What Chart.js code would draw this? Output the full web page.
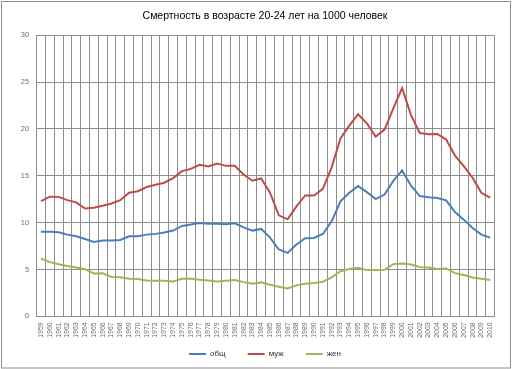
<!DOCTYPE html>
<html>
<head>
<meta charset="utf-8">
<script src="https://cdn.jsdelivr.net/npm/chart.js@4/dist/chart.umd.min.js"></script>
<style>
html,body{margin:0;padding:0;background:#fff;}
#wrap{width:512px;height:369px;position:relative;}
</style>
</head>
<body>
<div id="wrap"><canvas id="c" width="512" height="369"></canvas></div>
<script>
const years = [1959,1960,1961,1962,1963,1964,1965,1966,1967,1968,1969,1970,1971,1972,1973,1974,1975,1976,1977,1978,1979,1980,1981,1982,1983,1984,1985,1986,1987,1988,1989,1990,1991,1992,1993,1994,1995,1996,1997,1998,1999,2000,2001,2002,2003,2004,2005,2006,2007,2008,2009,2010].map(String);

const totalRate = [9.04,9.04,8.97,8.72,8.55,8.26,7.94,8.08,8.10,8.15,
  8.55,8.55,8.72,8.80,8.94,9.15,9.65,9.79,9.96,9.89,
  9.89,9.82,9.93,9.50,9.15,9.33,8.40,7.13,6.77,7.66,
  8.33,8.37,8.79,10.14,12.27,13.19,13.90,13.26,12.52,13.00,
  14.45,15.57,13.97,12.84,12.70,12.62,12.38,11.13,10.32,9.43,
  8.72,8.40];

const maleRate = [12.30,12.77,12.75,12.40,12.16,11.50,11.60,11.80,12.05,12.40,
  13.20,13.35,13.80,14.05,14.26,14.75,15.50,15.74,16.17,16.00,
  16.31,16.06,16.06,15.14,14.47,14.72,13.20,10.78,10.35,11.74,
  12.90,12.90,13.60,15.90,19.00,20.35,21.56,20.60,19.18,19.93,
  22.20,24.36,21.50,19.57,19.43,19.47,18.87,17.16,16.03,14.79,
  13.19,12.66];

const femaleRate = [6.17,5.78,5.56,5.38,5.20,5.03,4.57,4.60,4.20,4.17,
  4.00,3.97,3.83,3.80,3.80,3.72,4.00,4.00,3.90,3.83,
  3.72,3.80,3.87,3.65,3.48,3.62,3.37,3.16,2.98,3.30,
  3.48,3.55,3.69,4.15,4.82,5.04,5.18,4.93,4.93,4.96,
  5.57,5.64,5.53,5.25,5.21,5.04,5.11,4.61,4.40,4.15,
  4.00,3.87];

const seriesNames = ['общ','муж','жен'];
const yTicks = [0,5,10,15,20,25,30];
const titleText = 'Смертность в возрасте 20-24 лет на 1000 человек';

const colors = ['#4a7ebb','#be4b48','#98b954'];
const FONT = '"Liberation Sans", Arial, sans-serif';

const frame = {
  id: 'frame',
  beforeDraw(chart) {
    const ctx = chart.ctx;
    ctx.save();
    ctx.fillStyle = '#fff';
    ctx.fillRect(0, 0, chart.width, chart.height);
    ctx.restore();
    // let rotated category labels extend below the (short) x-axis box
    if (chart.scales.x) chart.scales.x._computeLabelArea = () => null;
  },
  afterDraw(chart) {
    const ctx = chart.ctx;
    ctx.save();
    ctx.strokeStyle = '#8c8c8c';
    ctx.lineWidth = 1;
    ctx.strokeRect(1.5, 1.5, 509, 366.5);
    ctx.restore();
  }
};

new Chart(document.getElementById('c'), {
  type: 'line',
  data: {
    labels: years,
    datasets: [totalRate, maleRate, femaleRate].map((d, i) => ({
      label: seriesNames[i],
      data: d,
      borderColor: colors[i],
      backgroundColor: colors[i],
      borderWidth: 2,
      pointRadius: 0,
      tension: 0
    }))
  },
  options: {
    responsive: false,
    animation: false,
    devicePixelRatio: 1,
    layout: { padding: { left: 18, right: 0, top: 0, bottom: 1 } },
    plugins: {
      title: {
        display: true,
        text: titleText,
        color: '#000',
        font: { family: FONT, size: 10.5, weight: 'normal' },
        padding: { top: 9.5, bottom: 13.2 }
      },
      legend: {
        position: 'bottom',
        labels: {
          color: '#333',
          font: { family: FONT, size: 8 },
          boxWidth: 17,
          boxHeight: 2,
          padding: 22,
          generateLabels(chart) {
            return chart.data.datasets.map((ds, i) => ({
              text: ds.label,
              fillStyle: ds.borderColor,
              strokeStyle: ds.borderColor,
              lineWidth: 0,
              hidden: false,
              datasetIndex: i,
              fontColor: '#333'
            }));
          }
        }
      },
      tooltip: { enabled: false }
    },
    scales: {
      x: {
        offset: true,
        grid: { offset: true, color: '#8e8e8e', lineWidth: 1, drawTicks: false },
        border: { display: true, color: '#8e8e8e' },
        ticks: {
          autoSkip: false, minRotation: 90, maxRotation: 90,
          padding: 6, color: '#6e6e6e',
          font: { family: FONT, size: 7 }
        },
        afterFit(scale) { scale.height = 11.7; }
      },
      y: {
        min: 0, max: 30,
        afterBuildTicks(scale) { scale.ticks = yTicks.map(v => ({ value: v })); },
        grid: { color: '#8e8e8e', lineWidth: 1, drawTicks: false },
        border: { display: true, color: '#8e8e8e' },
        ticks: {
          padding: 7.5, color: '#6e6e6e',
          font: { family: FONT, size: 7.5 }
        },
        afterFit(scale) { scale.width = 18.6; }
      },
      yRight: {
        position: 'right',
        display: true,
        grid: { display: false },
        border: { display: false },
        ticks: { display: false },
        afterFit(scale) { scale.width = 17.4; }
      }
    }
  },
  plugins: [frame]
});
</script>
</body>
</html>
